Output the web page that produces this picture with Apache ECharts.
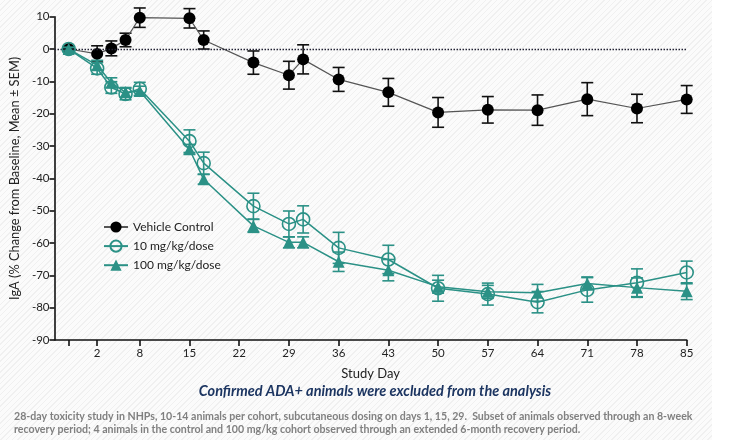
<!DOCTYPE html>
<html>
<head>
<meta charset="utf-8">
<script src="https://cdn.jsdelivr.net/npm/echarts@6/dist/echarts.min.js"></script>
<style>
html,body{margin:0;padding:0;background:#fff;}
#bg{position:absolute;left:0;top:0;width:712px;height:440px;
background:repeating-linear-gradient(135deg,#fbfbfb 0px,#fbfbfb 3px,#f0f0f0 3px,#f0f0f0 4px);}
#chart{position:absolute;left:0;top:0;width:750px;height:444px;}
</style>
</head>
<body>
<div id="bg"></div>
<div id="chart"></div>
<script>
// ---- data ----
const days = [-2, 2, 4, 6, 8, 15, 17, 24, 29, 31, 36, 43, 50, 57, 64, 71, 78, 85];
const vehicleMean = [0, -1.5, 0.2, 2.8, 9.7, 9.5, 2.8, -4.2, -8.1, -3.2, -9.4, -13.4, -19.6, -18.8, -18.9, -15.5, -18.4, -15.6];
const vehicleSem  = [0.5, 2.5, 2.3, 2.1, 3.0, 3.0, 2.8, 3.6, 4.3, 4.5, 3.7, 4.3, 4.6, 4.1, 4.7, 5.1, 4.4, 4.3];
const dose10Mean  = [0, -6.0, -11.9, -13.9, -12.3, -28.5, -35.3, -48.6, -54.1, -52.7, -61.5, -65.1, -74.0, -75.8, -78.3, -74.5, -72.3, -69.1];
const dose10Sem   = [0.5, 1.8, 1.8, 1.8, 2.0, 3.5, 3.4, 4.0, 4.0, 4.2, 4.8, 4.4, 4.0, 3.4, 3.3, 3.8, 4.3, 3.5];
const dose100Mean = [0, -5.0, -10.4, -13.4, -13.0, -31.0, -40.3, -54.7, -59.8, -59.8, -65.8, -68.4, -73.5, -75.1, -75.4, -72.5, -73.8, -74.9];
const dose100Sem  = [0.5, 1.5, 1.5, 1.5, 1.5, 1.5, 1.5, 2.0, 1.7, 1.7, 3.0, 3.3, 2.0, 2.0, 2.6, 2.0, 3.0, 2.6];
const xTickValues  = [-2, 2, 8, 15, 22, 29, 36, 43, 50, 57, 64, 71, 78, 85];
const xLabelValues = [2, 8, 15, 22, 29, 36, 43, 50, 57, 64, 71, 78, 85];
const seriesNames = ['Vehicle Control', '10 mg/kg/dose', '100 mg/kg/dose'];

const TEAL = '#2b9186';
const FONT = 'Lato, "Open Sans", sans-serif';

function pts(means){ return days.map((d,i)=>[d, means[i]]); }
function errData(means, sems){ return days.map((d,i)=>[d, means[i]-sems[i], means[i]+sems[i]]); }
function errSeries(means, sems, color, z){
  return {
    type: 'custom',
    silent: true,
    z: z,
    data: errData(means, sems),
    encode: {x: 0, y: [1, 2]},
    renderItem: function(params, api){
      const lo = api.coord([api.value(0), api.value(1)]);
      const hi = api.coord([api.value(0), api.value(2)]);
      const hw = 6;
      const st = {stroke: color, lineWidth: 1.6};
      return {type: 'group', children: [
        {type:'line', shape:{x1:lo[0], y1:lo[1], x2:hi[0], y2:hi[1]}, style: st},
        {type:'line', shape:{x1:lo[0]-hw, y1:lo[1], x2:lo[0]+hw, y2:lo[1]}, style: st},
        {type:'line', shape:{x1:hi[0]-hw, y1:hi[1], x2:hi[0]+hw, y2:hi[1]}, style: st}
      ]};
    }
  };
}

const chart = echarts.init(document.getElementById('chart'), null, {renderer: 'canvas'});
chart.setOption({
  animation: false,
  backgroundColor: 'transparent',
  textStyle: {fontFamily: FONT},
  grid: {left: 54.5, right: 63.3, top: 16.7, bottom: 104, containLabel: false},
  legend: {
    orient: 'vertical',
    left: 98, top: 216,
    itemWidth: 24, itemHeight: 14, itemGap: 6.5,
    data: seriesNames,
    textStyle: {fontSize: 12, color: '#222', fontFamily: FONT}
  },
  xAxis: {
    type: 'value', min: -4, max: 85,
    name: 'Study Day', nameLocation: 'middle', nameGap: 27,
    nameTextStyle: {fontSize: 13, color: '#222', fontFamily: FONT},
    axisLine: {onZero: false, lineStyle: {color: '#111', width: 1.6}},
    axisTick: {show: true, length: 6, customValues: xTickValues, lineStyle: {color: '#111', width: 1.6}},
    axisLabel: {customValues: xLabelValues, fontSize: 11.5, color: '#222', margin: 7, fontFamily: FONT},
    splitLine: {show: false}
  },
  yAxis: {
    type: 'value', min: -90, max: 10, interval: 10,
    name: 'IgA (% Change from Baseline, Mean \u00b1 SEM)', nameLocation: 'middle', nameGap: 32,
    nameTextStyle: {fontSize: 12.8, color: '#222', fontFamily: FONT},
    axisLine: {show: true, onZero: false, lineStyle: {color: '#111', width: 1.6}},
    axisTick: {show: true, length: 5, lineStyle: {color: '#111', width: 1.6}},
    axisLabel: {fontSize: 11.5, color: '#222', margin: 5, fontFamily: FONT},
    splitLine: {show: false}
  },
  series: [
    errSeries(vehicleMean, vehicleSem, '#111', 2),
    {
      name: seriesNames[0], type: 'line', z: 3,
      data: pts(vehicleMean),
      symbol: 'circle', symbolSize: 12,
      itemStyle: {color: '#000'},
      lineStyle: {color: '#555', width: 1.2},
      markLine: {
        silent: true, symbol: ['none','none'], label: {show: false},
        lineStyle: {color: '#223', type: [1.5, 1.5], width: 1.3},
        data: [{yAxis: 0}]
      }
    },
    errSeries(dose10Mean, dose10Sem, TEAL, 4),
    {
      name: seriesNames[1], type: 'line', z: 5,
      data: pts(dose10Mean),
      color: TEAL,
      symbol: 'circle', symbolSize: 13,
      itemStyle: {color: 'rgba(255,255,255,0)', borderColor: TEAL, borderWidth: 1.6},
      lineStyle: {color: TEAL, width: 1.5}
    },
    errSeries(dose100Mean, dose100Sem, TEAL, 4),
    {
      name: seriesNames[2], type: 'line', z: 6,
      data: pts(dose100Mean),
      color: TEAL,
      symbol: 'triangle', symbolSize: 12,
      itemStyle: {color: TEAL},
      lineStyle: {color: TEAL, width: 1.5}
    }
  ],
  graphic: [
    {type: 'text', left: 'center', top: 384, z: 10,
     style: {text: 'Confirmed ADA+ animals were excluded from the analysis',
             font: 'italic bold 14.5px ' + FONT, fill: '#1c3561'}},
    {type: 'text', left: 14, top: 410, z: 10,
     style: {text: '28-day toxicity study in NHPs, 10-14 animals per cohort, subcutaneous dosing on days 1, 15, 29.  Subset of animals observed through an 8-week\nrecovery period; 4 animals in the control and 100 mg/kg cohort observed through an extended 6-month recovery period.',
             font: 'bold 10.6px ' + FONT, fill: '#808080', lineHeight: 13}}
  ]
});
</script>
</body>
</html>
